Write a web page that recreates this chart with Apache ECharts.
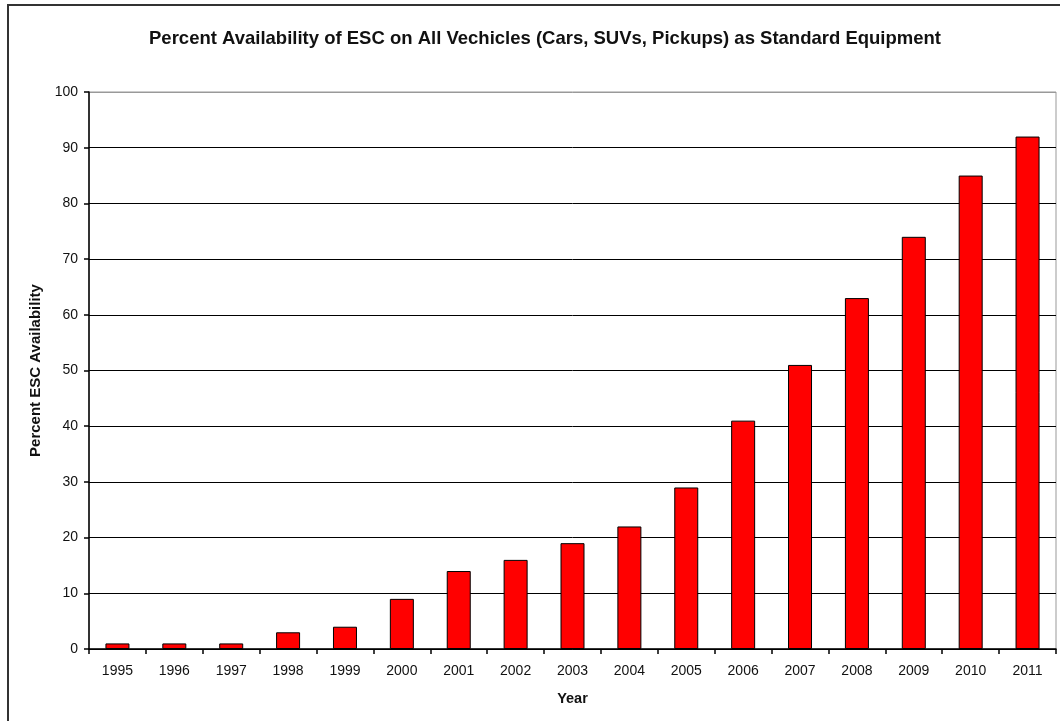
<!DOCTYPE html>
<html>
<head>
<meta charset="utf-8">
<script src="https://cdn.jsdelivr.net/npm/echarts@6/dist/echarts.min.js"></script>
<style>html,body{margin:0;padding:0;background:#fff}#c{width:1060px;height:721px}</style>
</head>
<body>
<div id="c"></div>
<script>
var years = ['1995','1996','1997','1998','1999','2000','2001','2002','2003','2004','2005','2006','2007','2008','2009','2010','2011'];
var percentESC = [1,1,1,3,4,9,14,16,19,22,29,41,51,63,74,85,92];
var yTicks = [0,10,20,30,40,50,60,70,80,90,100];

var font = '"Liberation Sans", Arial, sans-serif';
var chart = echarts.init(document.getElementById('c'), null, {renderer:'canvas'});
var splitColors = yTicks.map(function(v){ return v === 100 ? '#999' : '#000'; });
chart.setOption({
  animation: false,
  backgroundColor: '#fff',
  title: {
    text: 'Percent Availability of ESC on All Vechicles (Cars, SUVs, Pickups) as Standard Equipment',
    left: 540, top: 24, textAlign: 'center',
    textStyle: {fontFamily: font, fontSize: 18.5, fontWeight: 'bold', color: '#111'}
  },
  graphic: [{
    type: 'rect', silent: true,
    shape: {x: 8, y: 5, width: 1080, height: 740},
    style: {fill: 'none', stroke: '#333', lineWidth: 2}
  }],
  grid: {left: 89, right: 4, top: 92, bottom: 72, show: true, borderColor: '#999', borderWidth: 1},
  xAxis: {
    type: 'category', data: years,
    name: 'Year', nameLocation: 'middle', nameGap: 42,
    nameTextStyle: {fontFamily: font, fontSize: 14.5, fontWeight: 'bold', color: '#111'},
    axisLine: {lineStyle: {color: '#000', width: 1.5}},
    axisTick: {show: true, length: 5, lineStyle: {color: '#000', width: 1.5}},
    axisLabel: {fontFamily: font, fontSize: 14, color: '#111', margin: 15}
  },
  yAxis: {
    type: 'value', min: 0, max: 100, interval: 10,
    name: 'Percent ESC Availability', nameLocation: 'middle', nameGap: 46,
    nameTextStyle: {fontFamily: font, fontSize: 15, fontWeight: 'bold', color: '#111'},
    axisLine: {show: true, lineStyle: {color: '#000', width: 1.5}},
    axisTick: {show: true, length: 5, lineStyle: {color: '#000', width: 1.5}},
    axisLabel: {fontFamily: font, fontSize: 14, color: '#111', margin: 11},
    splitLine: {show: true, lineStyle: {color: splitColors, width: 1}}
  },
  series: [{
    type: 'bar', data: percentESC, barWidth: 24,
    itemStyle: {color: '#ff0000', borderColor: '#000', borderWidth: 1}
  }]
});
</script>
</body>
</html>
